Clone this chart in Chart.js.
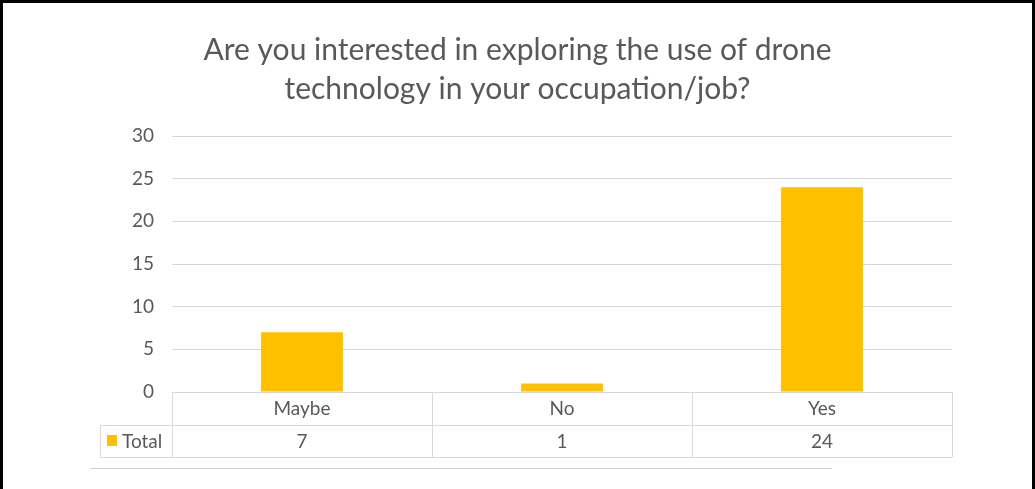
<!DOCTYPE html>
<html>
<head>
<meta charset="utf-8">
<script src="https://cdn.jsdelivr.net/npm/chart.js@4/dist/chart.umd.min.js"></script>
<style>
  html, body { margin: 0; padding: 0; background: #fff; }
  #wrap { position: relative; width: 1035px; height: 489px; }
  #frame {
    position: absolute; left: 0; top: 0; width: 1029px; height: 489px;
    border-left: 3px solid #000; border-top: 3px solid #000; border-right: 3px solid #000;
    box-sizing: content-box; pointer-events: none;
  }
</style>
</head>
<body>
<div id="wrap">
  <canvas id="barChart" width="1035" height="489"></canvas>
  <div id="frame"></div>
</div>
<script>
// 回答の集計
const categories = ['Maybe', 'No', 'Yes'];
const totals = [7, 1, 24];
const seriesName = 'Total';
const yTicks = [0, 5, 10, 15, 20, 25, 30];

const GOLD = '#FFC000';
const TEXT = '#595959';
const LINE = '#d9d9d9';
const FONT = 'Lato, "Open Sans", sans-serif';

// x軸の代わりにデータテーブルを描く
const dataTable = {
  id: 'dataTable',
  afterDraw(chart) {
    const c = chart.ctx;
    const x = chart.scales.x;
    const area = chart.chartArea;
    const colW = (area.right - area.left) / categories.length;
    const rowH = 33;
    const top = area.bottom;
    const mid = top + rowH;
    const bot = mid + rowH - 1;
    const legendLeft = 100;

    c.save();
    c.strokeStyle = LINE;
    c.lineWidth = 1;
    c.beginPath();
    c.moveTo(area.left, top + 0.5); c.lineTo(area.right, top + 0.5);
    c.moveTo(legendLeft, mid + 0.5); c.lineTo(area.right, mid + 0.5);
    c.moveTo(legendLeft, bot + 0.5); c.lineTo(area.right, bot + 0.5);
    c.moveTo(legendLeft + 0.5, mid); c.lineTo(legendLeft + 0.5, bot);
    for (let i = 0; i <= categories.length; i++) {
      const px = Math.round(area.left + i * colW) + 0.5;
      c.moveTo(px, top); c.lineTo(px, bot);
    }
    c.stroke();

    c.fillStyle = TEXT;
    c.font = '19px ' + FONT;
    c.textAlign = 'center';
    c.textBaseline = 'middle';
    categories.forEach((cat, i) => {
      const cx = x.getPixelForValue(i);
      c.fillText(cat, cx, top + rowH / 2);
      c.fillText(String(totals[i]), cx, mid + rowH / 2);
    });

    // 凡例キー
    c.fillStyle = GOLD;
    c.fillRect(107, mid + 10, 10, 11);
    c.fillStyle = TEXT;
    c.textAlign = 'left';
    c.fillText(seriesName, 122, mid + rowH / 2);

    c.strokeStyle = '#d0d0d0';
    c.beginPath();
    c.moveTo(90, 468.5); c.lineTo(832, 468.5);
    c.stroke();
    c.restore();
  }
};

new Chart(document.getElementById('barChart'), {
  type: 'bar',
  data: {
    labels: categories,
    datasets: [{
      label: seriesName,
      data: totals,
      backgroundColor: GOLD,
      categoryPercentage: 1,
      barPercentage: 0.315
    }]
  },
  options: {
    responsive: false,
    animation: false,
    layout: { padding: { left: 0, right: 0, top: 0, bottom: 97 } },
    plugins: {
      legend: { display: false },
      tooltip: { enabled: false },
      title: {
        display: true,
        text: ['Are you interested in exploring the use of drone', 'technology in your occupation/job?'],
        color: TEXT,
        font: { family: FONT, size: 30, weight: 'normal', lineHeight: 1.3 },
        padding: { top: 31, bottom: 27 }
      }
    },
    scales: {
      x: { display: false },
      y: {
        min: 0,
        max: 30,
        afterBuildTicks(scale) { scale.ticks = yTicks.map(v => ({ value: v })); },
        afterFit(scale) { scale.width = 172; },
        border: { display: false },
        grid: { color: LINE, drawTicks: false },
        ticks: { color: TEXT, padding: 18, font: { family: FONT, size: 19 } }
      },
      // 右側の余白用（表示なし）
      yRight: {
        position: 'right',
        min: 0,
        max: 30,
        afterFit(scale) { scale.width = 83; },
        border: { display: false },
        grid: { display: false },
        ticks: { display: false }
      }
    }
  },
  plugins: [dataTable]
});
</script>
</body>
</html>
